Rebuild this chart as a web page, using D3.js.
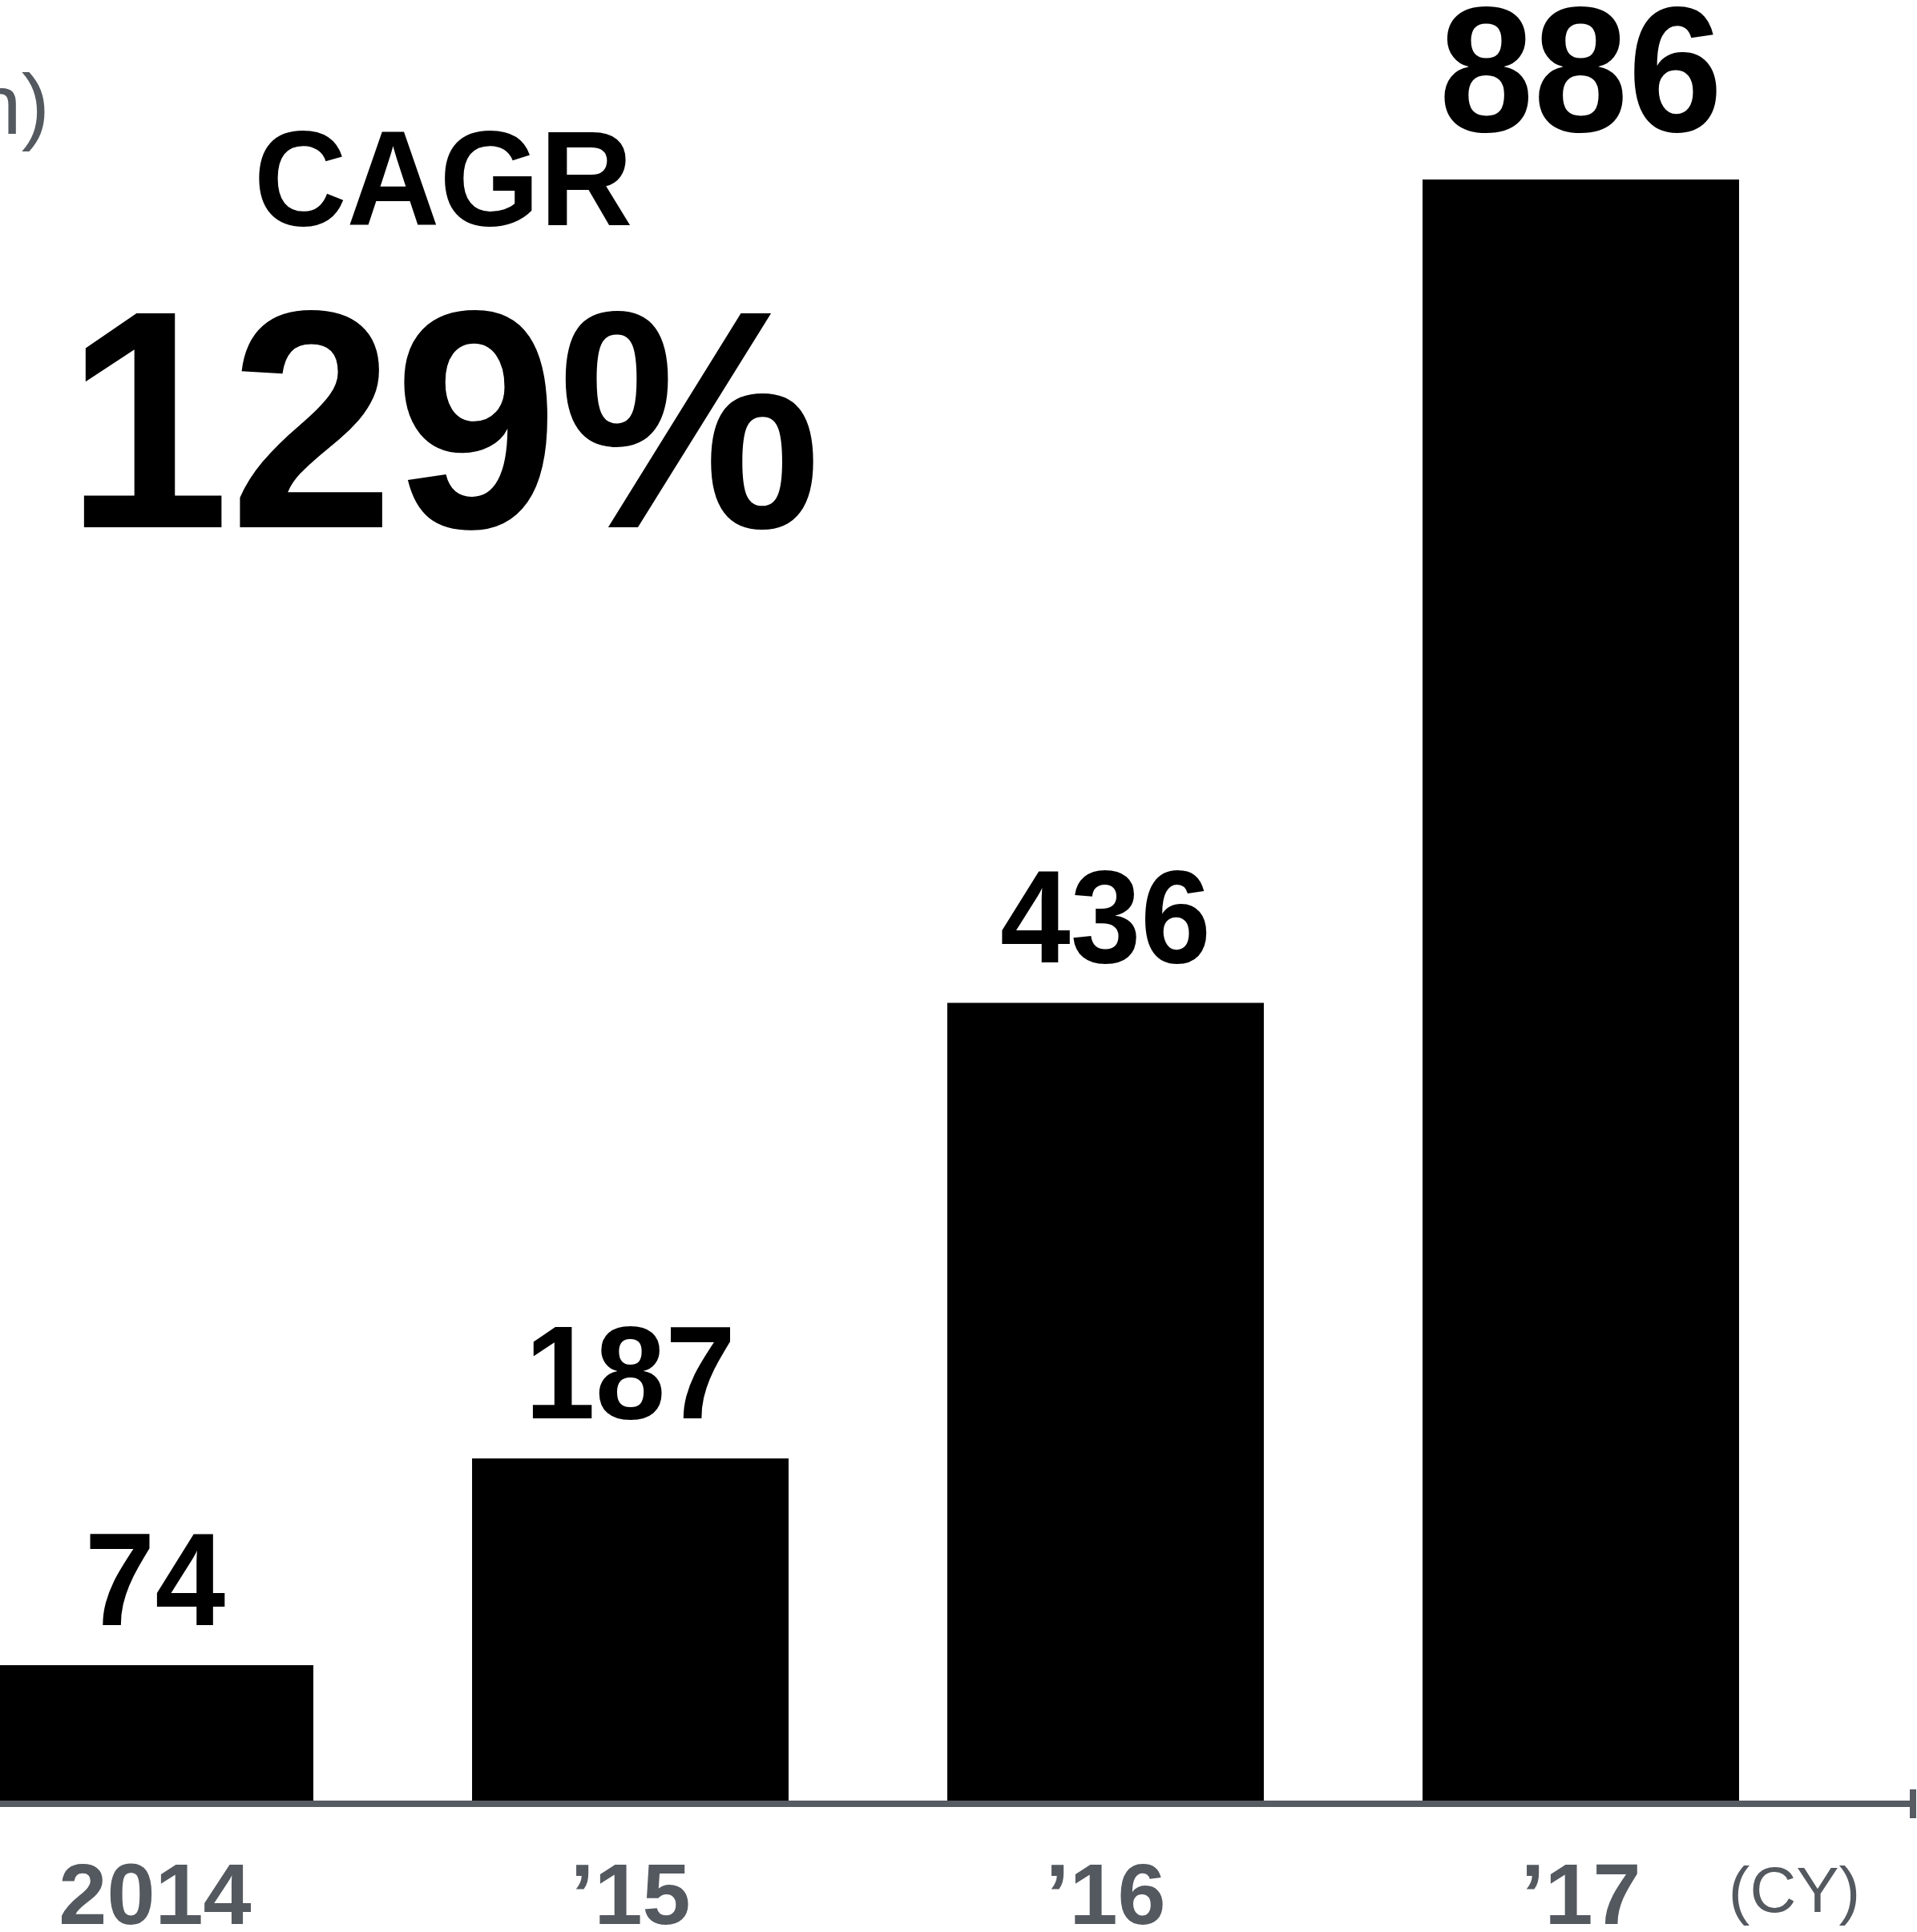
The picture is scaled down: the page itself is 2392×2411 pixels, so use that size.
<!DOCTYPE html>
<html>
<head>
<meta charset="utf-8">
<script src="https://cdn.jsdelivr.net/npm/d3@7"></script>
<style>
  html, body { margin: 0; padding: 0; background: #ffffff; }
  svg { display: block; }
</style>
</head>
<body>
<svg id="chart" width="2392" height="2411"></svg>
<script>
// Calendar years and values
const categories = ["2014", "’15", "’16", "’17"];
const values = [74, 187, 436, 886];
const cagrTitle = "CAGR";
const cagrValue = "129%";
const unitLabel = "(US$ mn)";
const axisUnit = "(CY)";

const W = 2392, H = 2411;
const baseline = 2247;      // top edge of the axis rule
const axisColor = "#575b62";
const textGrey = "#545960";
const FONT = "Liberation Sans, Arial, Arimo, Helvetica, sans-serif";
const SQUEEZE = 0.95;       // slight horizontal condensing of the display type

const svg = d3.select("#chart").attr("font-family", FONT);
svg.append("rect").attr("width", W).attr("height", H).attr("fill", "#ffffff");

const x = d3.scaleBand()
  .domain(categories)
  .range([-103, 2269])
  .paddingInner(0.334)
  .paddingOuter(0.167);

const y = d3.scaleLinear()
  .domain([0, 886])
  .range([baseline, 224]);

const data = categories.map((c, i) => ({ cat: c, value: values[i] }));

// Bars
svg.append("g").selectAll("rect")
  .data(data)
  .join("rect")
  .attr("x", d => x(d.cat))
  .attr("y", d => y(d.value))
  .attr("width", x.bandwidth())
  .attr("height", d => baseline - y(d.value))
  .attr("fill", "#000000");

// Value labels above the bars; the latest year is set larger
const maxVal = d3.max(values);
svg.append("g").selectAll("text")
  .data(data)
  .join("text")
  .attr("font-family", FONT)
  .attr("transform", d => {
    const cx = x(d.cat) + x.bandwidth() / 2;
    const by = y(d.value) - (d.value === maxVal ? 60 : 50);
    return `translate(${cx},${by}) scale(${SQUEEZE},1)`;
  })
  .attr("text-anchor", "middle")
  .attr("font-weight", "bold")
  .attr("font-size", d => d.value === maxVal ? 223 : 166)
  .attr("fill", "#000000")
  .text(d => d.value);

// Baseline axis with end tick
const axisG = svg.append("g");
axisG.append("line")
  .attr("x1", -10).attr("x2", 2391)
  .attr("y1", baseline + 4).attr("y2", baseline + 4)
  .attr("stroke", axisColor).attr("stroke-width", 8);
axisG.append("line")
  .attr("x1", 2387).attr("x2", 2387)
  .attr("y1", 2233).attr("y2", 2269)
  .attr("stroke", axisColor).attr("stroke-width", 8);

// Category labels
svg.append("g").selectAll("text")
  .data(categories)
  .join("text")
  .attr("font-family", FONT)
  .attr("x", d => x(d) + x.bandwidth() / 2)
  .attr("y", 2401)
  .attr("text-anchor", "middle")
  .attr("font-weight", "bold")
  .attr("font-size", 108)
  .attr("fill", textGrey)
  .text(d => d);

svg.append("text")
  .attr("font-family", FONT)
  .attr("x", 2239).attr("y", 2386)
  .attr("text-anchor", "middle")
  .attr("font-size", 80)
  .attr("fill", textGrey)
  .text(axisUnit);

// Unit note, top-left
svg.append("text")
  .attr("font-family", FONT)
  .attr("x", 62).attr("y", 167)
  .attr("text-anchor", "end")
  .attr("font-size", 106)
  .attr("fill", textGrey)
  .text(unitLabel);

// Growth callout
svg.append("text")
  .attr("font-family", FONT)
  .attr("transform", `translate(553,281) scale(${SQUEEZE},1)`)
  .attr("text-anchor", "middle")
  .attr("font-weight", "bold")
  .attr("font-size", 169)
  .attr("fill", "#000000")
  .text(cagrTitle);

svg.append("text")
  .attr("font-family", FONT)
  .attr("transform", `translate(553,658) scale(${SQUEEZE},1)`)
  .attr("text-anchor", "middle")
  .attr("font-weight", "bold")
  .attr("font-size", 388)
  .attr("fill", "#000000")
  .text(cagrValue);
</script>
</body>
</html>
